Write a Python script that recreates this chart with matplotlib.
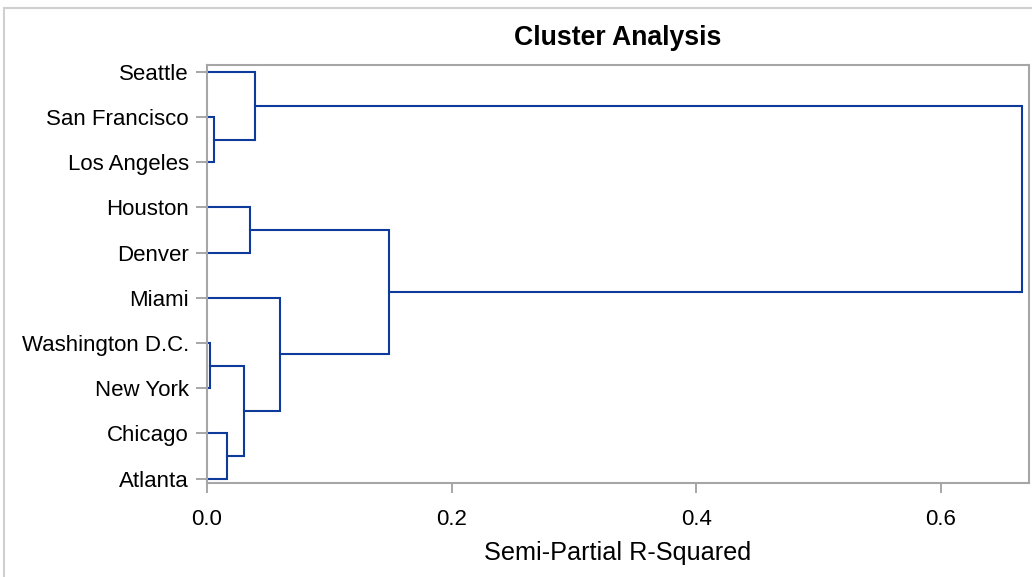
import matplotlib
matplotlib.use("Agg")
import matplotlib.pyplot as plt
from matplotlib.patches import Rectangle

# ---- data ----
leaves = ["Seattle", "San Francisco", "Los Angeles", "Houston", "Denver",
          "Miami", "Washington D.C.", "New York", "Chicago", "Atlanta"]
# merges: (child_a, child_b, height); ids 0..9 are leaves, 10+ are new clusters in order
merge_a = [6, 1, 8, 10, 3, 0, 5, 14, 15]
merge_b = [7, 2, 9, 12, 4, 11, 13, 16, 17]
merge_h = [0.0022, 0.006, 0.016, 0.0302, 0.035, 0.0395, 0.0597, 0.149, 0.666]
xticks = [0.0, 0.2, 0.4, 0.6]

plt.rcParams['font.family'] = ['Liberation Sans', 'DejaVu Sans']

fig = plt.figure(figsize=(10.32, 5.77), dpi=100)
ax = fig.add_axes([207/1032, 1-482.7/577, (1029-207)/1032, (482.7-65)/577])

line_color = '#0e3a9c'
pos = {i: i for i in range(len(leaves))}
hgt = {i: 0.0 for i in range(len(leaves))}
n = len(leaves)
for k, (a, b, h) in enumerate(zip(merge_a, merge_b, merge_h)):
    ya, yb = pos[a], pos[b]
    xa, xb = hgt[a], hgt[b]
    ax.plot([xa, h, h, xb], [ya, ya, yb, yb], color=line_color, lw=1.5,
            solid_joinstyle='miter', clip_on=False)
    pos[n + k] = (ya + yb) / 2
    hgt[n + k] = h

ax.set_xlim(0, 0.672)
ax.set_ylim(9.09, -0.15)
ax.set_yticks(range(n))
ax.set_yticklabels(leaves, fontsize=16)
ax.set_xticks(xticks)
ax.set_xticklabels([f"{t:.1f}" for t in xticks], fontsize=16)
ax.tick_params(axis='y', direction='out', length=8, width=1.3, color='#a0a0a0', pad=5)
ax.tick_params(axis='x', direction='out', length=7, width=1.3, color='#a0a0a0', pad=12)
for s in ax.spines.values():
    s.set_color('#a6a6a6')
    s.set_linewidth(1.5)
ax.set_xlabel("Semi-Partial R-Squared", fontsize=18.2, labelpad=8)
fig.text(618/1032, 1-38/577, "Cluster Analysis", fontsize=19.2, fontweight='bold',
         ha='center', va='center')

# outer border
fig.patches.append(Rectangle((3.5/1032, -0.1), 1.2, 1 - 8/577 + 0.1,
                             transform=fig.transFigure, fill=False,
                             edgecolor='#d0d0d0', lw=1.5))

fig.savefig("out.png", dpi=100)
